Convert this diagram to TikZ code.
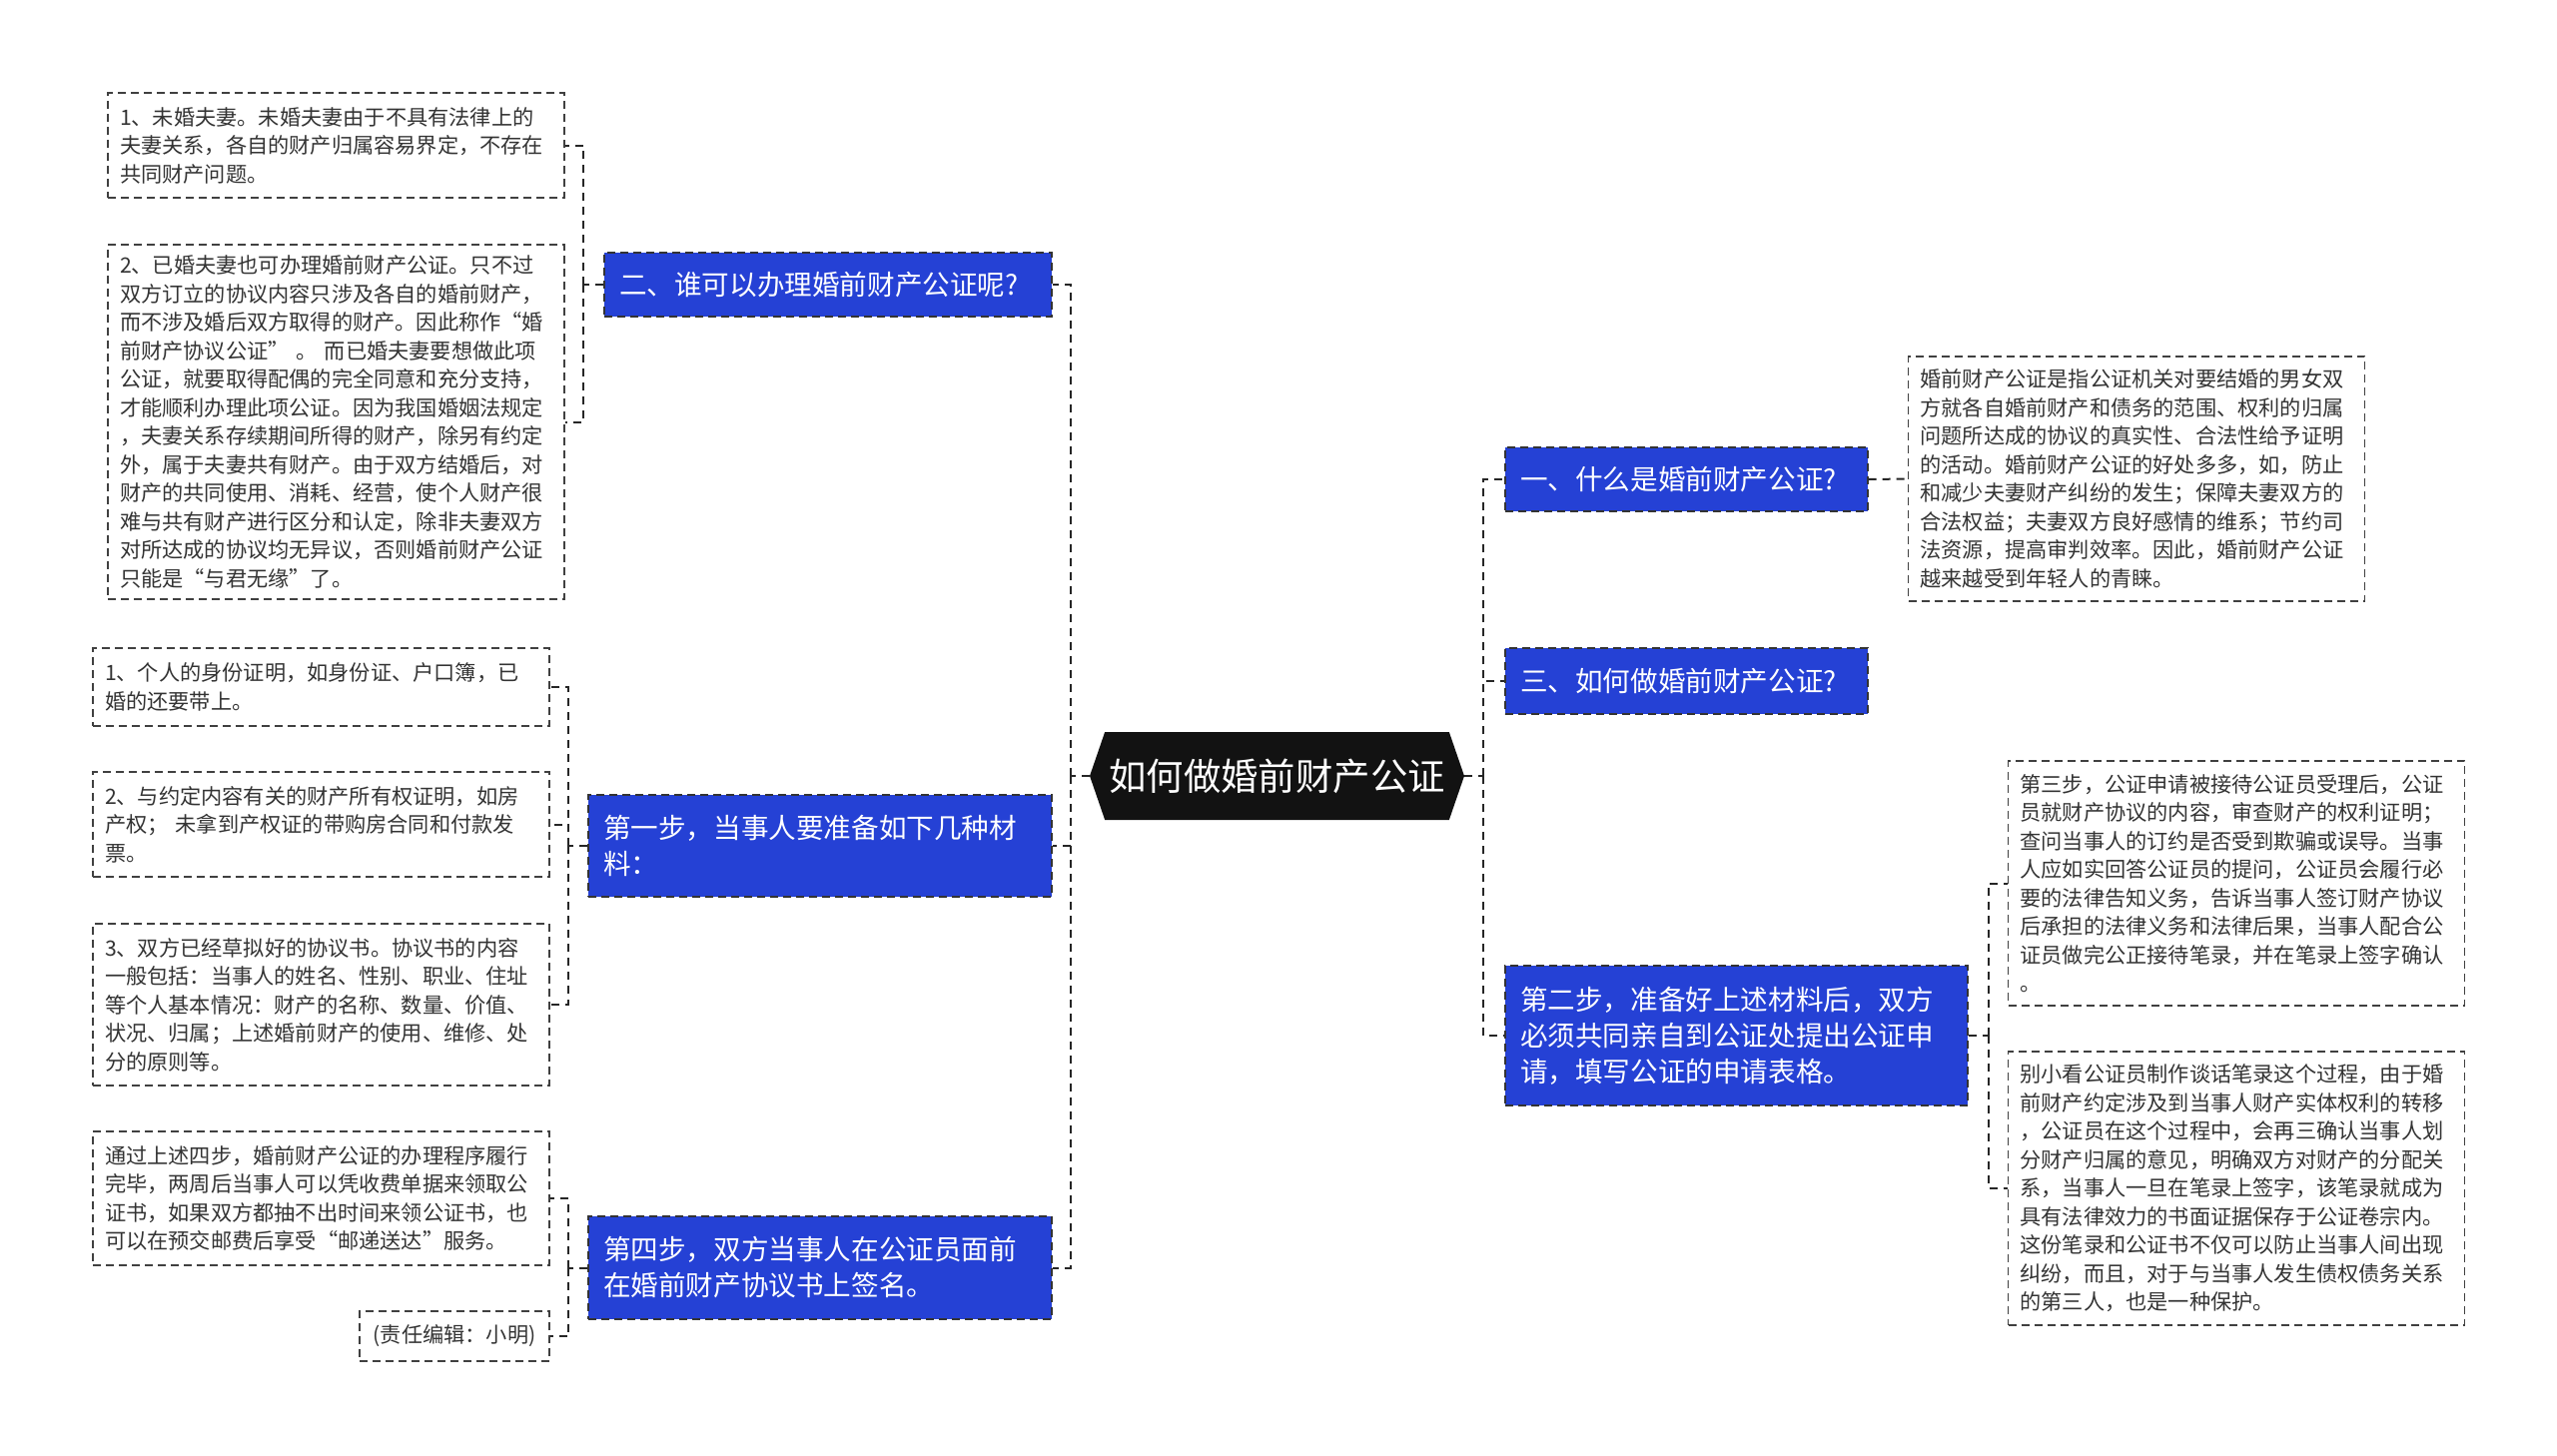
\documentclass[tikz,border=0pt]{standalone}
\usepackage{fontspec}
\setmainfont{Noto Sans CJK SC}
\usepackage{xcolor}
\usepackage{tikz}
\usetikzlibrary{shapes,positioning,calc}
\definecolor{topicblue}{HTML}{2541D5}
\definecolor{leafgray}{HTML}{333333}

\begin{document}
\begin{tikzpicture}[x=0.5pt, y=-0.5pt,
    root/.style={shape=signal, signal to=west and east, signal pointer angle=142,
        fill=black!93, text=white, inner sep=0pt, minimum width=187.5pt, minimum height=44pt,
        font=\fontsize{18.7pt}{22pt}\selectfont},
    topic/.style={draw=black!80, dash pattern=on 4pt off 2.5pt, line width=0.6pt,
        fill=topicblue, text=white, inner xsep=7.5pt, inner ysep=0pt, align=left,
        font=\fontsize{13.8pt}{18pt}\selectfont},
    leaf/.style={draw=black!75, dash pattern=on 4pt off 2.5pt, line width=0.6pt,
        fill=white, text=leafgray, inner xsep=6pt, inner ysep=0pt, align=left,
        text width=216.5pt, minimum width=228.5pt,
        font=\fontsize{10.6pt}{14.25pt}\selectfont},
    link/.style={draw=black!85, line width=1pt, dash pattern=on 4pt off 3pt}]

    \useasboundingbox (0,0) rectangle (2560,1457);

    % centre
    \node[root] (root) at (1278.5,777) {如何做婚前财产公证};

    % left: who can do it
    \node[topic, text width=209pt, minimum height=32pt] (who) at (829,285) {二、谁可以办理婚前财产公证呢?};
    \node[leaf, minimum height=52.5pt] (who1) at (336.5,145.5) {1、未婚夫妻。未婚夫妻由于不具有法律上的\\夫妻关系，各自的财产归属容易界定，不存在\\共同财产问题。};
    \node[leaf, minimum height=177.5pt] (who2) at (336.5,422.5) {2、已婚夫妻也可办理婚前财产公证。只不过\\双方订立的协议内容只涉及各自的婚前财产，\\而不涉及婚后双方取得的财产。因此称作“婚\\前财产协议公证” 。 而已婚夫妻要想做此项\\公证，就要取得配偶的完全同意和充分支持，\\才能顺利办理此项公证。因为我国婚姻法规定\\，夫妻关系存续期间所得的财产，除另有约定\\外，属于夫妻共有财产。由于双方结婚后，对\\财产的共同使用、消耗、经营，使个人财产很\\难与共有财产进行区分和认定，除非夫妻双方\\对所达成的协议均无异议，否则婚前财产公证\\只能是“与君无缘”了。};

    % left: step one
    \node[topic, text width=217pt, minimum height=51pt] (stepa) at (821,847) {第一步，当事人要准备如下几种材\\料：};
    \node[leaf, minimum height=39pt] (stepa1) at (321.5,688) {1、个人的身份证明，如身份证、户口簿，已\\婚的还要带上。};
    \node[leaf, minimum height=52.5pt] (stepa2) at (321.5,825.5) {2、与约定内容有关的财产所有权证明，如房\\产权； 未拿到产权证的带购房合同和付款发\\票。};
    \node[leaf, minimum height=81pt] (stepa3) at (321.5,1006) {3、双方已经草拟好的协议书。协议书的内容\\一般包括：当事人的姓名、性别、职业、住址\\等个人基本情况：财产的名称、数量、价值、\\状况、归属；上述婚前财产的使用、维修、处\\分的原则等。};

    % left: step four
    \node[topic, text width=217pt, minimum height=51.5pt] (stepd) at (821,1269.5) {第四步，双方当事人在公证员面前\\在婚前财产协议书上签名。};
    \node[leaf, minimum height=67pt] (stepd1) at (321.5,1200) {通过上述四步，婚前财产公证的办理程序履行\\完毕，两周后当事人可以凭收费单据来领取公\\证书，如果双方都抽不出时间来领公证书，也\\可以在预交邮费后享受“邮递送达”服务。};
    \node[leaf, text width=83pt, minimum width=95pt, minimum height=25pt, align=center] (stepd2) at (455,1338) {(责任编辑：小明)};

    % right: what is it
    \node[topic, text width=166.5pt, minimum height=32pt] (what) at (1688.5,480) {一、什么是婚前财产公证?};
    \node[leaf, minimum height=122.5pt] (what1) at (2139,479.5) {婚前财产公证是指公证机关对要结婚的男女双\\方就各自婚前财产和债务的范围、权利的归属\\问题所达成的协议的真实性、合法性给予证明\\的活动。婚前财产公证的好处多多，如，防止\\和减少夫妻财产纠纷的发生；保障夫妻双方的\\合法权益；夫妻双方良好感情的维系；节约司\\法资源，提高审判效率。因此，婚前财产公证\\越来越受到年轻人的青睐。};

    % right: how
    \node[topic, text width=166.5pt, minimum height=33pt] (how) at (1688.5,682) {三、如何做婚前财产公证?};

    % right: step two
    \node[topic, text width=216.5pt, minimum height=70pt] (stepb) at (1738.5,1037) {第二步，准备好上述材料后，双方\\必须共同亲自到公证处提出公证申\\请，填写公证的申请表格。};
    \node[leaf, minimum height=122.5pt] (stepb1) at (2239,884.5) {第三步，公证申请被接待公证员受理后，公证\\员就财产协议的内容，审查财产的权利证明；\\查问当事人的订约是否受到欺骗或误导。当事\\人应如实回答公证员的提问，公证员会履行必\\要的法律告知义务，告诉当事人签订财产协议\\后承担的法律义务和法律后果，当事人配合公\\证员做完公正接待笔录，并在笔录上签字确认\\。};
    \node[leaf, minimum height=137pt] (stepb2) at (2239,1190) {别小看公证员制作谈话笔录这个过程，由于婚\\前财产约定涉及到当事人财产实体权利的转移\\，公证员在这个过程中，会再三确认当事人划\\分财产归属的意见，明确双方对财产的分配关\\系，当事人一旦在笔录上签字，该笔录就成为\\具有法律效力的书面证据保存于公证卷宗内。\\这份笔录和公证书不仅可以防止当事人间出现\\纠纷，而且，对于与当事人发生债权债务关系\\的第三人，也是一种保护。};

    % trunks
    \draw[link] (root.west) -- ++(-19,0) coordinate (tl);
    \draw[link] (tl) |- (who.east);
    \draw[link] (tl) |- (stepa.east);
    \draw[link] (tl) |- (stepd.east);
    \draw[link] (root.east) -- ++(19,0) coordinate (tr);
    \draw[link] (tr) |- (what.west);
    \draw[link] (tr) |- (how.west);
    \draw[link] (tr) |- (stepb.west);

    % brackets
    \draw[link] (who.west) -- ++(-20,0) coordinate (kw);
    \draw[link] (kw) |- (who1.east);
    \draw[link] (kw) |- (who2.east);
    \draw[link] (stepa.west) -- ++(-19,0) coordinate (ka);
    \draw[link] (ka) |- (stepa1.east);
    \draw[link] (ka) |- (stepa2.east);
    \draw[link] (ka) |- (stepa3.east);
    \draw[link] (stepd.west) -- ++(-19,0) coordinate (kd);
    \draw[link] (kd) |- (stepd1.east);
    \draw[link] (kd) |- (stepd2.east);
    \draw[link] (what.east) -- (what1.west);
    \draw[link] (stepb.east) -- ++(20,0) coordinate (kb);
    \draw[link] (kb) |- (stepb1.west);
    \draw[link] (kb) |- (stepb2.west);
\end{tikzpicture}
\end{document}
